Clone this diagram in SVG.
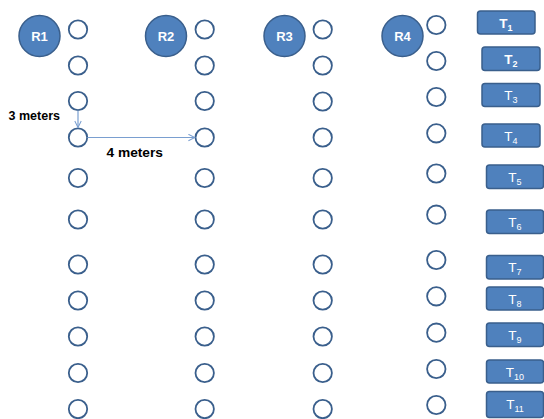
<svg xmlns="http://www.w3.org/2000/svg" width="544" height="419" viewBox="0 0 544 419">
<defs>
<style>
.big{fill:#4F81BD;stroke:#3A5F8C;stroke-width:1.5}
.sm{fill:#fff;stroke:#3A5F8C;stroke-width:1.8}
.box{fill:#4F81BD;stroke:#3A5F8C;stroke-width:1.5}
.rl{font-family:"Liberation Sans",Arial,sans-serif;font-size:13px;font-weight:bold;fill:#fff;text-anchor:middle}
.tl{font-family:"Liberation Sans",Arial,sans-serif;font-size:13.5px;fill:#fff;text-anchor:middle}
.sub{font-size:9px}
.lbl{font-family:"Liberation Sans",Arial,sans-serif;font-size:12.5px;font-weight:bold;fill:#000}
.conn{stroke:#7A9FD0;stroke-width:1.2;fill:none}
</style>
<marker id="arr" viewBox="0 0 10 10" refX="9" refY="5" markerWidth="8" markerHeight="8" markerUnits="userSpaceOnUse" orient="auto">
<path d="M1,1 L9,5 L1,9" fill="none" stroke="#7A9FD0" stroke-width="1.3"/>
</marker>
</defs>
<rect width="544" height="419" fill="#fff"/>
<g id="R1"><circle class="big" cx="39.5" cy="36" r="20.5"/><text class="rl" x="39.5" y="41">R1</text></g>
<g id="R2"><circle class="big" cx="166" cy="36" r="20.5"/><text class="rl" x="166" y="41">R2</text></g>
<g id="R3"><circle class="big" cx="284.5" cy="36" r="20.5"/><text class="rl" x="284.5" y="41">R3</text></g>
<g id="R4"><circle class="big" cx="402.5" cy="36" r="20.5"/><text class="rl" x="402.5" y="41">R4</text></g>
<g id="col1">
<circle class="sm" cx="78" cy="29.5" r="9.2"/><circle class="sm" cx="78" cy="65.5" r="9.2"/><circle class="sm" cx="78" cy="101" r="9.2"/><circle class="sm" cx="78" cy="137.5" r="9.2"/><circle class="sm" cx="78" cy="178" r="9.2"/><circle class="sm" cx="78" cy="219.5" r="9.2"/><circle class="sm" cx="78" cy="264.5" r="9.2"/><circle class="sm" cx="78" cy="300.5" r="9.2"/><circle class="sm" cx="78" cy="336.5" r="9.2"/><circle class="sm" cx="78" cy="373" r="9.2"/><circle class="sm" cx="78" cy="409" r="9.2"/>
</g>
<g id="col2">
<circle class="sm" cx="204.7" cy="29.5" r="9.2"/><circle class="sm" cx="204.7" cy="65.5" r="9.2"/><circle class="sm" cx="204.7" cy="101" r="9.2"/><circle class="sm" cx="204.7" cy="137.5" r="9.2"/><circle class="sm" cx="204.7" cy="178" r="9.2"/><circle class="sm" cx="204.7" cy="219.5" r="9.2"/><circle class="sm" cx="204.7" cy="264.5" r="9.2"/><circle class="sm" cx="204.7" cy="300.5" r="9.2"/><circle class="sm" cx="204.7" cy="336.5" r="9.2"/><circle class="sm" cx="204.7" cy="373" r="9.2"/><circle class="sm" cx="204.7" cy="409" r="9.2"/>
</g>
<g id="col3">
<circle class="sm" cx="322.7" cy="29.5" r="9.2"/><circle class="sm" cx="322.7" cy="65.5" r="9.2"/><circle class="sm" cx="322.7" cy="101.5" r="9.2"/><circle class="sm" cx="322.7" cy="137.5" r="9.2"/><circle class="sm" cx="322.7" cy="178" r="9.2"/><circle class="sm" cx="322.7" cy="219.5" r="9.2"/><circle class="sm" cx="322.7" cy="264.5" r="9.2"/><circle class="sm" cx="322.7" cy="300.5" r="9.2"/><circle class="sm" cx="322.7" cy="336.5" r="9.2"/><circle class="sm" cx="322.7" cy="373" r="9.2"/><circle class="sm" cx="322.7" cy="409" r="9.2"/>
</g>
<g id="col4">
<circle class="sm" cx="436.3" cy="25" r="9.2"/><circle class="sm" cx="436.3" cy="61" r="9.2"/><circle class="sm" cx="436.3" cy="97" r="9.2"/><circle class="sm" cx="436.3" cy="133.3" r="9.2"/><circle class="sm" cx="436.3" cy="173.5" r="9.2"/><circle class="sm" cx="436.3" cy="214.7" r="9.2"/><circle class="sm" cx="436.3" cy="260" r="9.2"/><circle class="sm" cx="436.3" cy="296.3" r="9.2"/><circle class="sm" cx="436.3" cy="332.7" r="9.2"/><circle class="sm" cx="436.3" cy="369" r="9.2"/><circle class="sm" cx="436.3" cy="405" r="9.2"/>
</g>
<g id="T1"><rect class="box" x="477.5" y="11" width="57.5" height="23" rx="3"/><text class="tl" x="506" y="27.5" font-weight="bold">T<tspan class="sub" dy="3">1</tspan></text></g>
<g id="T2"><rect class="box" x="482" y="47" width="58" height="23.5" rx="3"/><text class="tl" x="511" y="63.5" font-weight="bold">T<tspan class="sub" dy="3">2</tspan></text></g>
<g id="T3"><rect class="box" x="482" y="83.5" width="58" height="23" rx="3"/><text class="tl" x="511" y="100">T<tspan class="sub" dy="3">3</tspan></text></g>
<g id="T4"><rect class="box" x="482" y="124" width="58" height="23" rx="3"/><text class="tl" x="511" y="140.5">T<tspan class="sub" dy="3">4</tspan></text></g>
<g id="T5"><rect class="box" x="486.5" y="165" width="57" height="23.5" rx="3"/><text class="tl" x="515" y="181.5">T<tspan class="sub" dy="3">5</tspan></text></g>
<g id="T6"><rect class="box" x="486.5" y="210" width="57" height="23.5" rx="3"/><text class="tl" x="515" y="226.5">T<tspan class="sub" dy="3">6</tspan></text></g>
<g id="T7"><rect class="box" x="486.5" y="255.5" width="57" height="23.5" rx="3"/><text class="tl" x="515" y="272">T<tspan class="sub" dy="3">7</tspan></text></g>
<g id="T8"><rect class="box" x="486.5" y="287" width="57" height="23" rx="3"/><text class="tl" x="515" y="303.5">T<tspan class="sub" dy="3">8</tspan></text></g>
<g id="T9"><rect class="box" x="486.5" y="323" width="57" height="23.5" rx="3"/><text class="tl" x="515" y="339.5">T<tspan class="sub" dy="3">9</tspan></text></g>
<g id="T10"><rect class="box" x="486.5" y="360" width="57" height="23" rx="3"/><text class="tl" x="515" y="376.5">T<tspan class="sub" dy="3">10</tspan></text></g>
<g id="T11"><rect class="box" x="486.5" y="391.5" width="57" height="26" rx="3"/><text class="tl" x="515" y="409" font-size="15">T<tspan class="sub" dy="3" font-size="10">11</tspan></text></g>
<g id="connectors">
<line class="conn" x1="78" y1="110.5" x2="78" y2="127.5" marker-end="url(#arr)"/>
<line class="conn" x1="87.3" y1="137.5" x2="194.8" y2="137.5" marker-end="url(#arr)"/>
</g>
<g id="labels">
<text class="lbl" x="8.5" y="120" textLength="51.5" lengthAdjust="spacingAndGlyphs">3 meters</text>
<text class="lbl" x="106.5" y="157" textLength="56.5" lengthAdjust="spacingAndGlyphs">4 meters</text>
</g>
</svg>
